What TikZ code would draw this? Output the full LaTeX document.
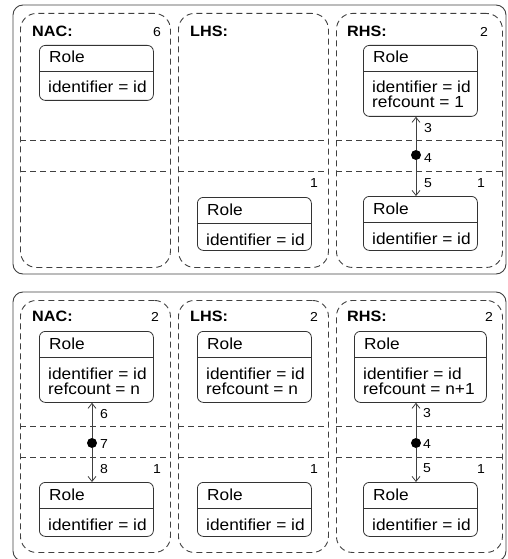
\documentclass[tikz,border=0pt]{standalone}
\usepackage{fontspec}
\setmainfont{Liberation Sans}[FakeStretch=1.08]
\usetikzlibrary{arrows.meta,calc}

\tikzset{
  frame/.style={draw=black!75, line width=0.9pt, rounded corners=10pt},
  column/.style={draw=black!75, dash pattern=on 6pt off 4pt, line width=0.9pt,
    rounded corners=16pt, minimum width=150pt, minimum height=254pt,
    anchor=north west, inner sep=0pt},
  band/.style={draw=black!75, dash pattern=on 6pt off 4pt, line width=0.9pt},
  boxline/.style={draw=black!80, line width=0.8pt},
  rolebox/.style={draw=black!80, line width=0.8pt, rounded corners=6pt,
    anchor=north west, inner sep=0pt},
  txt/.style={inner sep=0pt, font=\fontsize{16}{16}\selectfont, anchor=base west},
  head/.style={inner sep=0pt, font=\fontsize{15}{15}\selectfont\bfseries, anchor=base west},
  num/.style={inner sep=0pt, font=\fontsize{13}{13}\selectfont, anchor=base},
  lbl/.style={inner sep=0pt, font=\fontsize{13}{13}\selectfont, anchor=base west},
  link/.style={draw=black!75, line width=0.8pt, arrows={-Straight Barb[length=5pt,width=8pt]}},
  joint/.style={circle, fill=black, inner sep=0pt, minimum size=10pt},
}

% class box: name, left, top, width, height, first attribute, second attribute
\newcommand\rolebox[7]{%
  \node[rolebox, minimum width=#4pt, minimum height=#5pt] (#1) at (#2,#3) {};
  \draw[boxline] ([yshift=-26pt]#1.north west) -- ([yshift=-26pt]#1.north east);
  \node[txt] at ([xshift=10pt,yshift=-18pt]#1.north west) {Role};
  \node[txt] at ([xshift=9pt,yshift=-48pt]#1.north west) {#6};
  \node[txt] at ([xshift=9pt,yshift=-63pt]#1.north west) {#7};
}

% the two dashed band lines across a column
\newcommand\bands[3]{%
  \draw[band] (#1.west |- 0,#2) -- (#1.east |- 0,#2);
  \draw[band] (#1.west |- 0,#3) -- (#1.east |- 0,#3);
}

\begin{document}
\begin{tikzpicture}[x=1pt,y=-1pt]
  \useasboundingbox (0,0) rectangle (508,559);
  \clip (0,0) rectangle (508,559);

  % ---------- upper rule ----------
  \draw[frame] (13,5) rectangle (506,274);
  \node[column] (tnac) at (20,13) {};
  \node[column] (tlhs) at (178,13) {};
  \node[column, minimum width=166pt] (trhs) at (336,13) {};
  \bands{tnac}{140}{171}
  \bands{tlhs}{140}{171}
  \bands{trhs}{140}{171}

  \node[head] (h1) at (32,37) {NAC:};
  \node[head] (h2) at (190,37) {LHS:};
  \node[head] (h3) at (347,37) {RHS:};
  \node[num] (m1) at (157,37) {6};
  \node[num] (m2) at (314,187) {1};
  \node[num] (m3) at (484,37) {2};
  \node[num] (m4) at (481,187) {1};

  \rolebox{tn1}{39}{45}{114}{55}{identifier = id}{}
  \rolebox{tl1}{197}{197}{114}{53}{identifier = id}{}
  \rolebox{tr1}{363}{45}{114}{71}{identifier = id}{refcount = 1}
  \rolebox{tr2}{363}{196}{114}{54}{identifier = id}{}

  \node[joint] (tj) at (416,155) {};
  \draw[link] (tj) -- (tj |- tr1.south);
  \draw[link] (tj) -- (tj |- tr2.north);
  \node[lbl] (a3) at (424,132) {3};
  \node[lbl] (a4) at (424,162) {4};
  \node[lbl] (a5) at (424,187) {5};

  % ---------- lower rule ----------
  \draw[frame] (13,292) rectangle (506,561);
  \node[column, minimum height=252pt] (bnac) at (20,300) {};
  \node[column, minimum height=252pt] (blhs) at (178,300) {};
  \node[column, minimum height=252pt, minimum width=166pt] (brhs) at (336,300) {};
  \bands{bnac}{426}{457}
  \bands{blhs}{426}{457}
  \bands{brhs}{426}{457}

  \node[head] (h4) at (32,321) {NAC:};
  \node[head] (h5) at (190,321) {LHS:};
  \node[head] (h6) at (347,321) {RHS:};
  \node[num] (m5) at (155,321) {2};
  \node[num] (m6) at (157,473) {1};
  \node[num] (m7) at (314,321) {2};
  \node[num] (m8) at (314,473) {1};
  \node[num] (m9) at (489,321) {2};
  \node[num] (m10) at (481,473) {1};

  \rolebox{bn1}{39}{331}{114}{71}{identifier = id}{refcount = n}
  \rolebox{bn2}{39}{482}{114}{54}{identifier = id}{}
  \rolebox{bl1}{197}{331}{114}{71}{identifier = id}{refcount = n}
  \rolebox{bl2}{197}{482}{114}{54}{identifier = id}{}
  \rolebox{br1}{354}{331}{132}{71}{identifier = id}{refcount = n+1}
  \rolebox{br2}{363}{482}{114}{54}{identifier = id}{}

  \node[joint] (bj1) at (92,443) {};
  \draw[link] (bj1) -- (bj1 |- bn1.south);
  \draw[link] (bj1) -- (bj1 |- bn2.north);
  \node[lbl] (a6) at (100,418) {6};
  \node[lbl] (a7) at (100,448) {7};
  \node[lbl] (a8) at (100,473) {8};

  \node[joint] (bj2) at (416,443) {};
  \draw[link] (bj2) -- (bj2 |- br1.south);
  \draw[link] (bj2) -- (bj2 |- br2.north);
  \node[lbl] (a9) at (423,417) {3};
  \node[lbl] (a10) at (423,448) {4};
  \node[lbl] (a11) at (423,472) {5};
\end{tikzpicture}
\end{document}
